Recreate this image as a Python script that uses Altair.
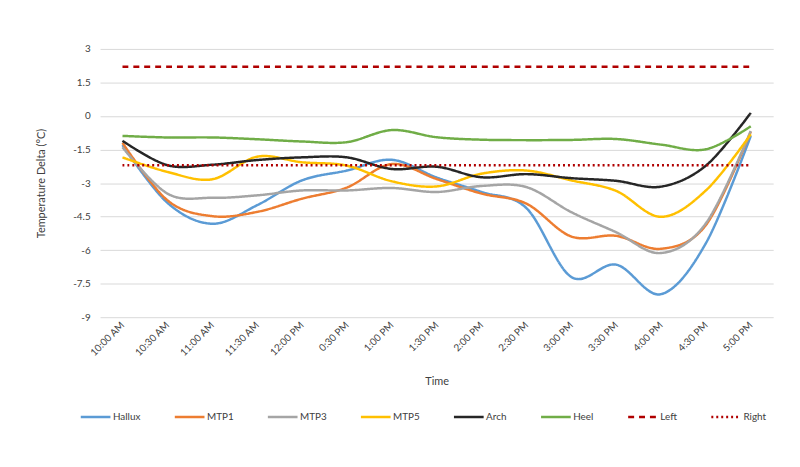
import altair as alt
import pandas as pd

times = ["10:00 AM", "10:30 AM", "11:00 AM", "11:30 AM", "12:00 PM", "0:30 PM",
         "1:00 PM", "1:30 PM", "2:00 PM", "2:30 PM", "3:00 PM", "3:30 PM",
         "4:00 PM", "4:30 PM", "5:00 PM"]

hallux = [-1.3, -3.88, -4.82, -3.99, -2.88, -2.44, -1.96, -2.75, -3.4, -4.12, -7.2, -6.65, -7.97, -5.69, -0.89]
mtp1 = [-1.2, -3.77, -4.48, -4.29, -3.7, -3.2, -2.15, -2.82, -3.47, -3.92, -5.39, -5.36, -5.94, -4.88, -0.7]
mtp3 = [-1.4, -3.47, -3.66, -3.55, -3.33, -3.33, -3.22, -3.4, -3.13, -3.18, -4.3, -5.2, -6.13, -4.8, -0.67]
mtp5 = [-1.85, -2.5, -2.83, -1.82, -2.07, -2.22, -2.92, -3.15, -2.58, -2.44, -2.88, -3.35, -4.51, -3.33, -0.82]
arch = [-1.11, -2.2, -2.18, -1.97, -1.85, -1.85, -2.37, -2.27, -2.74, -2.6, -2.78, -2.9, -3.16, -2.22, 0.14]
heel = [-0.89, -0.96, -0.96, -1.04, -1.14, -1.17, -0.63, -0.95, -1.06, -1.08, -1.07, -1.03, -1.28, -1.49, -0.46]
left = [2.2] * len(times)
right = [-2.2] * len(times)

series_names = ["Hallux", "MTP1", "MTP3", "MTP5", "Arch", "Heel", "Left", "Right"]
series_values = [hallux, mtp1, mtp3, mtp5, arch, heel, left, right]
colors = ["#5B9BD5", "#ED7D31", "#A5A5A5", "#FFC000", "#262626", "#70AD47", "#B00000", "#B00000"]
dashes = [[1, 0]] * 6 + [[6, 5], [2, 3]]
widths = [2.5] * 6 + [3, 3]

rows = []
for name, vals in zip(series_names, series_values):
    for t, v in zip(times, vals):
        rows.append({"time": t, "value": v, "series": name})
df = pd.DataFrame(rows)

leg = alt.Legend(
    title=None, orient="none", legendX=-21, legendY=355, direction="horizontal",
    columns=8, columnPadding=29, symbolType="stroke", symbolSize=900,
    symbolStrokeWidth=3, labelFontSize=10, labelColor="#404040", labelOffset=1,
    padding=0,
)

chart = alt.Chart(df).mark_line(interpolate="cardinal").encode(
    x=alt.X("time:N", sort=times, title="Time",
            scale=alt.Scale(type="point", padding=0.5),
            axis=alt.Axis(labelAngle=-45, labelAlign="right", labelBaseline="middle",
                          labelPadding=6, labelFontSize=10, labelColor="#404040",
                          domain=False, ticks=False, grid=False,
                          titleFontSize=11, titleFontWeight="normal", titleColor="#404040",
                          titleY=59)),
    y=alt.Y("value:Q", title="Temperature Delta (°C)",
            scale=alt.Scale(domain=[-9, 3], nice=False, zero=False),
            axis=alt.Axis(values=[-9, -7.5, -6, -4.5, -3, -1.5, 0, 1.5, 3],
                          labelExpr="'' + datum.value", labelPadding=10,
                          labelFontSize=10, labelColor="#404040",
                          domain=False, ticks=False, gridColor="#D9D9D9",
                          titleFontSize=11, titleFontWeight="normal", titleColor="#404040",
                          titleX=-54)),
    color=alt.Color("series:N", sort=series_names,
                    scale=alt.Scale(domain=series_names, range=colors), legend=leg),
    strokeDash=alt.StrokeDash("series:N", sort=series_names,
                              scale=alt.Scale(domain=series_names, range=dashes), legend=leg),
    strokeWidth=alt.StrokeWidth("series:N", sort=series_names,
                                scale=alt.Scale(domain=series_names, range=widths), legend=None),
).properties(
    width=680, height=271,
    autosize=alt.AutoSizeParams(type="none"),
    padding={"left": 93, "top": 39, "right": 19, "bottom": 150},
).configure(font="Lato").configure_view(stroke=None)

chart.save("out.html", embed_options={"renderer": "svg", "actions": False})
